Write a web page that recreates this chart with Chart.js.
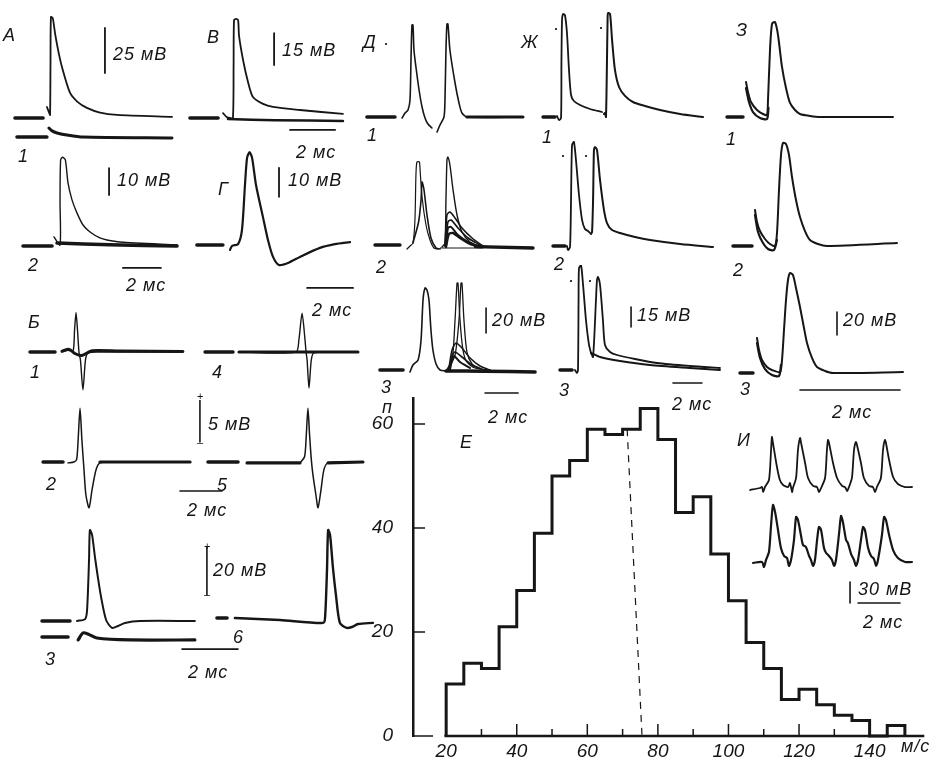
<!DOCTYPE html>
<html lang="ru">
<head>
<meta charset="utf-8">
<title>Потенциалы действия и распределение скоростей проведения</title>
<script src="https://cdn.jsdelivr.net/npm/chart.js@4.4.1/dist/chart.umd.min.js"></script>
<style>
html, body { margin: 0; padding: 0; background: #fff; }
#stage { position: relative; width: 931px; height: 762px; overflow: hidden; background: #fff; }
#stage canvas { position: absolute; }
.t { position: absolute; font-family: "Liberation Sans", Arimo, "DejaVu Sans", sans-serif; font-style: italic;
     font-size: 18px; line-height: 18px; color: #161616; letter-spacing: 1px; white-space: nowrap; }
.s { font-size: 11px; line-height: 11px; letter-spacing: 0; font-style: normal; }
</style>
</head>
<body>
<div id="stage"></div>
<script>
// ---------- histogram Е: conduction velocity distribution ----------
const speedBins = [20, 25, 30, 35, 40, 45, 50, 55, 60, 65, 70, 75, 80, 85, 90, 95, 100, 105, 110, 115, 120, 125, 130, 135, 140, 145];
const cellCounts = [10, 14, 13, 21, 28, 39, 50, 53, 59, 58, 59, 63, 57, 43, 46, 35, 26, 18, 13, 7, 9, 6, 4, 3, 0, 2];
const binWidth = 5;
const speedTicks = [20, 40, 60, 80, 100, 120, 140];
const speedMinorTicks = [30, 40, 50, 60, 70, 80, 90, 100, 110, 120, 130, 140];
const countTicks = [0, 20, 40, 60];
const meanSpeedLine = [[71.3, 59], [75.5, 0]];

// ---------- records (x in ms, y in mV relative to each baseline) ----------
// А
const A_stub = [[0.22, 0], [1.47, 0]];
const A_spike = [[1.64, 6.1], [1.74, 3], [1.78, 1.7], [1.8, 30], [1.82, 56.1], [1.9, 55.5], [2.0, 47.2], [2.15, 37], [2.31, 28.3], [2.67, 13.9], [3.0, 9], [3.42, 5.6], [4.0, 3], [4.76, 1.7], [7.2, 0.6]];
const A_lowStub = [[0.31, -10.6], [1.64, -10.6]];
const A_low = [[1.73, -5.6], [1.85, -7], [2.09, -8.3], [2.6, -9.6], [3.24, -10.6], [7.2, -11.1]];
// В
const V_stub = [[0.22, 0], [1.47, 0]];
const V_spike = [[1.69, 2.3], [1.85, 0.5], [2.0, 0], [2.13, 0], [2.16, 25], [2.18, 45.9], [2.27, 46.5], [2.36, 45.9], [2.4, 38.7], [2.58, 27.2], [2.8, 16.9], [3.02, 9.8], [3.47, 6.6], [3.91, 5.2], [5.11, 3.75], [7.02, 1.9]];
const V_base = [[1.91, -0.5], [4.0, -1.0], [7.02, -1.4]];
// А, запись 2
const A2_stub = [[0.42, -0.4], [1.95, -0.4]];
const A2_spike = [[2.05, 3.0], [2.37, 0], [2.37, 16], [2.4, 31.5], [2.5, 32.5], [2.65, 31.5], [2.79, 23], [3.0, 16.7], [3.26, 11.9], [3.58, 7.4], [3.95, 4.8], [4.47, 2.6], [4.84, 1.85], [5.53, 1.1], [8.53, 0]];
const A2_base = [[2.21, 0.7], [5.0, 0.1], [8.53, -0.4]];
// Г
const G_stub = [[0.3, 0], [1.43, 0]];
const G_spike = [[1.74, -1.7], [1.83, -0.3], [2.09, 0.3], [2.26, 5.2], [2.39, 20.7], [2.48, 30], [2.59, 32], [2.7, 30], [2.87, 20.7], [3.17, 9.7], [3.39, 1.7], [3.61, -4.1], [3.87, -6.9], [4.26, -6.2], [4.78, -4.1], [5.65, -1.0], [6.3, 0.3], [6.96, 1.0]];
// Б, записи 1–6
const B1_stub = [[0.24, 0], [1.43, 0]];
const B1_spike = [[1.76, 0], [2.05, 0.2], [2.29, 0.1], [2.36, 2.5], [2.43, 4.5], [2.5, 2.5], [2.57, 0], [2.64, -0.9], [2.76, -4.3], [2.88, -0.9], [3.0, -0.1], [3.57, 0], [7.52, 0]];
const B1_band = [[1.76, 0.1], [2.1, 0.3], [2.4, -0.2], [2.7, -0.4], [3.2, 0.15], [4.5, 0.1], [7.52, 0.05]];
const B4_stub = [[0.24, 0], [1.57, 0]];
const B4_base = [[1.86, 0], [7.52, 0]];
const B4_spike = [[1.86, 0], [4.57, 0], [4.71, 1.4], [4.86, 4.4], [5.0, 1.4], [5.05, 0], [5.1, -0.9], [5.19, -4.1], [5.3, -0.9], [5.43, -0.1], [7.52, 0]];
const B2_stub = [[0.86, 0], [1.81, 0]];
const B2_spike = [[2.05, -0.1], [2.33, 0], [2.46, 0.3], [2.53, 2.5], [2.62, 6.1], [2.71, 2.5], [2.81, -0.9], [2.9, -3.75], [3.05, -5.2], [3.19, -3.2], [3.38, -0.9], [3.57, -0.1], [4.05, 0], [7.86, 0]];
const B2_tail = [[3.57, 0], [7.86, 0]];
const B5_stub = [[0.38, 0], [1.81, 0]];
const B5_pre = [[2.24, -0.1], [4.76, -0.1]];
const B5_spike = [[4.76, -0.1], [4.98, 0.6], [5.06, 3], [5.14, 6.1], [5.22, 3], [5.3, 0.3], [5.38, -1.5], [5.52, -3.75], [5.62, -5.2], [5.76, -3.2], [5.9, -0.9], [6.1, -0.1], [7.76, 0]];
const B5_tail = [[6.1, -0.1], [7.76, 0]];
const B3_stub = [[0.25, 0], [1.25, 0]];
const B3_spike = [[1.5, 0], [1.79, 0.8], [1.86, 4.6], [1.93, 25.4], [1.96, 37.9], [2.04, 35.8], [2.14, 26.7], [2.25, 17.9], [2.36, 10], [2.54, 0.4], [2.75, -2.9], [2.96, -2.1], [3.21, -0.8], [3.75, 0], [5.71, 0]];
const B3_lowStub = [[0.25, -6.7], [1.18, -6.7]];
const B3_low = [[1.54, -7.9], [1.71, -5.0], [1.89, -5.4], [2.21, -7.1], [3.39, -7.9], [5.71, -7.9]];
const B6_stub = [[0.07, 1.25], [0.43, 1.25]];
const B6_spike = [[0.71, 1.25], [2.32, 0.4], [3.86, -0.8], [3.93, 1.25], [4.0, 21.3], [4.04, 37.9], [4.11, 35.8], [4.21, 22.5], [4.32, 10.8], [4.46, -0.8], [4.71, -2.9], [4.89, -2.5], [5.11, -1.25], [5.64, -0.8]];
// Д, записи 1–3
const D1_stub = [[0.42, 0], [2.12, 0]];
const D1_ap1 = [[2.55, -0.8], [2.73, 3.2], [2.91, 5.6], [3.03, 13.6], [3.09, 45.6], [3.15, 73.6], [3.21, 73.6], [3.27, 53.6], [3.39, 40], [3.58, 21.6], [3.76, 8], [3.94, -0.8], [4.12, -5.6], [4.36, -8.8]];
const D1_ap2 = [[4.67, -12], [4.85, -6.4], [5.09, 0], [5.15, 13.6], [5.21, 53.6], [5.27, 74.4], [5.33, 74.4], [5.45, 53.6], [5.76, 27.2], [6.0, 11.2], [6.18, 3.2], [6.48, 0], [9.88, 0]];
const D1_tail = [[6.48, 0], [9.88, 0]];
const D2_stub = [[0.91, 1.6], [2.42, 1.6]];
const D2_ap1a = [[2.85, -1.6], [3.03, 0.8], [3.21, 3.2], [3.33, 21.6], [3.39, 57.6], [3.45, 68], [3.6, 68], [3.64, 62], [3.76, 40], [4.0, 17.6], [4.24, 5.6], [4.48, -0.8], [4.73, -1.6]];
const D2_ap1b = [[3.21, 3.2], [3.55, 20], [3.7, 37.6], [3.76, 52], [3.88, 45.6], [4.06, 25.6], [4.3, 7.2], [4.61, -0.8], [4.85, -1.6]];
const D2_ap2 = [[4.97, 0], [5.15, 3.2], [5.21, 37.6], [5.27, 69.6], [5.33, 72], [5.45, 65.6], [5.64, 45.6], [5.88, 25.6], [6.18, 12], [6.67, 4], [7.27, 0.8], [10.48, -0.8]];
const D2_h1 = [[5.15, 0.8], [5.27, 25.6], [5.45, 28], [5.76, 23.2], [6.18, 15.2], [6.79, 7.2], [7.45, 0.8]];
const D2_h2 = [[5.15, 0.8], [5.33, 20], [5.52, 21.6], [5.94, 15.2], [6.55, 7.2], [7.27, 1.6]];
const D2_h3 = [[5.21, 0], [5.33, 15.2], [5.52, 16], [5.94, 9.6], [6.55, 4], [7.15, 0.8]];
const D2_h4 = [[5.21, 0], [5.39, 10.4], [5.64, 11.2], [6.06, 7.2], [6.67, 2.4], [7.27, 0]];
const D2_flat = [[4.85, -0.8], [7.45, -0.8]];
const D2_tail = [[7.0, 0.3], [10.48, -0.8]];
const D3_stub = [[1.21, 0], [2.61, 0]];
const D3_ap1 = [[3.03, -1.6], [3.21, 4], [3.52, 8], [3.7, 24], [3.82, 56], [3.94, 65.6], [4.06, 64], [4.18, 56], [4.3, 32], [4.42, 16], [4.61, 4.8], [4.85, 0], [5.21, -0.8]];
const D3_sa = [[5.21, -0.8], [5.58, 8], [5.76, 40], [5.88, 69.6], [5.94, 69.6], [6.06, 40], [6.24, 16], [6.48, 6.4], [6.97, 1.6], [7.88, 0]];
const D3_sb = [[5.33, 0], [5.76, 12], [6.0, 40], [6.12, 69.6], [6.18, 69.6], [6.3, 40], [6.48, 14.4], [6.79, 4.8], [7.27, 0.8]];
const D3_h1 = [[5.39, 1.6], [5.58, 16], [5.82, 21.6], [6.18, 17.6], [6.67, 9.6], [7.27, 3.2], [7.88, 0]];
const D3_h2 = [[5.39, 0.8], [5.58, 11.2], [5.76, 14.4], [6.18, 10.4], [6.79, 4], [7.39, 0.8]];
const D3_h3 = [[5.45, 0], [5.58, 8], [5.7, 11.2], [6.06, 6.4], [6.67, 1.6]];
const D3_base = [[5.21, -0.8], [7.5, -1.0], [10.61, -1.6]];
// Ж, записи 1–3
const Z1_stub = [[0.21, 0], [1.03, 0]];
const Z1_ap1 = [[1.17, 0.75], [1.31, -2.25], [1.45, -0.75], [1.48, 42.7], [1.52, 72.8], [1.59, 77.3], [1.72, 76.5], [1.86, 63], [2.0, 35.3], [2.14, 16.5], [2.34, 12], [2.76, 9], [3.45, 6], [4.28, 3.75]];
const Z1_ap2 = [[4.41, 2.25], [4.48, 3], [4.55, 0], [4.62, 42.7], [4.66, 72.8], [4.69, 78], [4.83, 77.3], [4.97, 57.8], [5.17, 35.3], [5.45, 22.5], [5.86, 15.8], [6.41, 11.25], [7.24, 8.25], [8.28, 5.25], [9.66, 2.25], [11.24, 0]];
const Z2_stub = [[0.9, 0.75], [1.72, 0.75]];
const Z2_ap1 = [[1.86, 0.75], [1.93, -2.25], [2.07, 0], [2.14, 35.3], [2.21, 76.5], [2.34, 78.8], [2.48, 65.3], [2.69, 39], [2.9, 20.3], [3.1, 13.5], [3.31, 12], [3.45, 10.5]];
const Z2_ap2 = [[3.52, 9.75], [3.59, 11.25], [3.66, 35.3], [3.72, 72.8], [3.79, 75], [3.93, 72.8], [4.14, 50.3], [4.41, 27.8], [4.62, 18], [4.97, 12.75], [5.52, 10.5], [6.55, 7.5], [7.59, 5.25], [9.66, 2.25], [11.93, 0]];
const Z3_stub = [[1.38, 0], [2.21, 0]];
const Z3_ap1 = [[2.41, 0], [2.55, -2.25], [2.62, 0], [2.66, 52.5], [2.69, 76.5], [2.83, 78.8], [2.97, 63.8], [3.17, 37.5], [3.38, 18.8], [3.52, 12.75]];
const Z3_ap2 = [[3.52, 12.75], [3.66, 9.75], [3.86, 52.5], [3.93, 67.5], [4.0, 69.8], [4.14, 63.8], [4.34, 37.5], [4.48, 18.8], [4.83, 13.5], [5.31, 11.25], [6.55, 8.25], [8.07, 5.25], [10.34, 3], [12.41, 1.5]];
const Z3_tail = [[3.52, 12.75], [4.14, 9.75], [5.52, 6.75], [7.59, 3.75], [10.34, 1.5], [12.41, 0]];
// З, записи 1–3
const Y1_stub = [[0.14, 0], [0.46, 0]];
const Y1_ap = [[0.52, 30.4], [0.56, 21.7], [0.62, 13], [0.74, 6.1], [0.86, 2.6], [0.94, 1.7], [0.96, 14.8], [1.0, 58.3], [1.04, 80.9], [1.1, 82.6], [1.16, 71.3], [1.24, 43.5], [1.32, 25.2], [1.4, 12.2], [1.5, 6.1], [1.6, 2.6], [1.8, 0.9], [2.0, 0], [3.46, 0]];
const Y1_band = [[0.52, 25.2], [0.58, 13], [0.66, 4.3], [0.8, -0.9], [0.94, -1.7], [0.97, 8]];
const Y2_stub = [[0.26, 0], [0.64, 0]];
const Y2_ap = [[0.7, 31.3], [0.74, 20.9], [0.8, 13], [0.9, 6.1], [1.0, 1.7], [1.1, 0], [1.14, 11.3], [1.18, 48.7], [1.22, 79.1], [1.26, 89.6], [1.32, 88.7], [1.38, 79.1], [1.44, 60], [1.52, 40], [1.6, 25.2], [1.7, 13], [1.8, 5.2], [1.96, 1.7], [2.14, 0], [3.54, 2.6]];
const Y2_band = [[0.7, 27], [0.76, 12.2], [0.86, 2.6], [0.96, -2.6], [1.08, -3.5], [1.14, 5.2]];
const Y3_stub = [[0.4, -0.9], [0.66, -0.9]];
const Y3_ap = [[0.74, 29.6], [0.78, 19.1], [0.84, 10.4], [0.94, 4.3], [1.04, 1.7], [1.2, 0], [1.24, 10.4], [1.28, 36.5], [1.32, 62.6], [1.36, 80], [1.4, 86.1], [1.46, 84.3], [1.52, 73], [1.6, 56.5], [1.68, 38.3], [1.74, 25.2], [1.84, 12.2], [1.94, 4.3], [2.1, 0.9], [2.26, -0.9], [3.66, 0]];
const Y3_band = [[0.74, 25.2], [0.8, 12.2], [0.9, 2.6], [1.04, -2.6], [1.18, -3.5], [1.22, 6.1]];
// И, ритмические разряды
const I1 = [[0.48, -2.9], [0.95, 0], [1.05, 1.4], [1.1, -5.7], [1.19, 1.4], [1.38, 11.4], [1.48, 54.3], [1.52, 72.9], [1.57, 64.3], [1.76, 30], [1.9, 11.4], [2.05, 4.3], [2.29, 1.4], [2.38, 7.1], [2.48, -5.7], [2.52, 0], [2.67, 14.3], [2.76, 54.3], [2.86, 71.4], [2.9, 65.7], [3.1, 35.7], [3.24, 14.3], [3.48, 2.9], [3.67, 1.4], [3.76, -5.7], [3.86, 0], [4.05, 14.3], [4.14, 54.3], [4.19, 68.6], [4.24, 64.3], [4.43, 35.7], [4.62, 14.3], [4.86, 2.9], [5.0, 1.4], [5.1, -4.3], [5.19, 1.4], [5.33, 14.3], [5.43, 54.3], [5.52, 65.7], [5.57, 61.4], [5.76, 35.7], [5.9, 14.3], [6.14, 2.9], [6.33, 1.4], [6.43, -5.7], [6.52, 1.4], [6.71, 14.3], [6.81, 54.3], [6.9, 68.6], [6.95, 64.3], [7.1, 40], [7.29, 15.7], [7.52, 5.7], [7.86, 1.4], [8.19, 1.4]];
const I2 = [[0.62, -1.4], [1.05, 0], [1.14, -7.1], [1.24, 2.9], [1.38, 14.3], [1.48, 52.9], [1.57, 81.4], [1.67, 71.4], [1.81, 45.7], [1.95, 20], [2.1, 8.6], [2.24, 5.7], [2.33, -5.7], [2.43, 2.9], [2.57, 31.4], [2.67, 64.3], [2.76, 60], [2.9, 38.6], [3.0, 24.3], [3.14, 21.4], [3.29, 8.6], [3.38, 2.9], [3.48, -5.7], [3.57, 2.9], [3.67, 31.4], [3.76, 50], [3.86, 45.7], [4.0, 20], [4.1, 12.9], [4.24, 8.6], [4.38, 2.9], [4.48, -5.7], [4.57, 2.9], [4.71, 38.6], [4.81, 65.7], [4.9, 57.1], [5.05, 31.4], [5.14, 27.1], [5.29, 11.4], [5.43, 2.9], [5.52, -5.7], [5.62, 2.9], [5.76, 31.4], [5.86, 50], [5.95, 45.7], [6.1, 20], [6.24, 8.6], [6.38, 4.3], [6.48, -5.7], [6.57, 2.9], [6.76, 38.6], [6.86, 64.3], [6.95, 60], [7.1, 38.6], [7.29, 17.1], [7.52, 5.7], [7.86, 0], [8.19, 0]];

// calibration values written next to the bars
const CAL = { A: 25, V: 15, A2: 10, G: 10, B2: 5, B3: 20, D: 20, Z: 15, Y: 20, I: 30, T: 2 };

// ---------- drawing ----------
const INK = '#161616';
const FONT = '"Liberation Sans", Arimo, "DejaVu Sans", sans-serif';
const stage = document.getElementById('stage');

const vbar = (x, yTop, mv) => [[x, yTop], [x, yTop - mv]];
const hbar = (x0, y, ms) => [[x0, y], [x0 + ms, y]];

function addCanvas(l, t, w, h) {
  const cv = document.createElement('canvas');
  cv.width = w; cv.height = h;
  cv.style.left = l + 'px'; cv.style.top = t + 'px';
  cv.style.width = w + 'px'; cv.style.height = h + 'px';
  stage.appendChild(cv);
  return cv;
}

function line(pts, width, tension) {
  return {
    data: pts.map(p => ({ x: p[0], y: p[1] })),
    borderColor: INK, borderWidth: width, pointRadius: 0, pointHoverRadius: 0,
    fill: false, clip: false, tension: tension === undefined ? 0.25 : tension,
    borderCapStyle: 'round', borderJoinStyle: 'round'
  };
}

const panels = [
  { box: [10, 5, 175, 140], ms: 22.5, mv: 1.8, base: 118,
    lines: [[A_stub, 3.5, 0], [A_spike, 1.8], [A_lowStub, 3.5, 0], [A_low, 3], [vbar(4.22, 50, CAL.A), 1.8, 0]] },
  { box: [185, 5, 165, 140], ms: 22.5, mv: 2.133, base: 118,
    lines: [[V_stub, 3.5, 0], [V_base, 2.5], [V_spike, 1.8], [vbar(3.96, 39.8, CAL.V), 1.8, 0], [hbar(4.67, -5.6, CAL.T), 1.8, 0]] },
  { box: [15, 150, 175, 135], ms: 19, mv: 2.7, base: 245,
    lines: [[A2_stub, 3.5, 0], [A2_base, 3.5, 0.1], [A2_spike, 1.4], [vbar(4.95, 28.5, CAL.A2), 1.8, 0], [hbar(5.68, -8.5, CAL.T), 1.8, 0]] },
  { box: [190, 150, 170, 150], ms: 23, mv: 2.9, base: 245,
    lines: [[G_stub, 3.5, 0], [G_spike, 2.2], [vbar(3.87, 26.6, CAL.G), 1.8, 0], [hbar(5.09, -14.8, CAL.T), 1.8, 0]] },
  { box: [25, 300, 170, 100], ms: 21, mv: 8.8, base: 352,
    lines: [[B1_stub, 3.5, 0], [B1_band, 3], [B1_spike, 1.4]] },
  { box: [200, 300, 170, 100], ms: 21, mv: 8.8, base: 352,
    lines: [[B4_stub, 3.5, 0], [B4_base, 3.2, 0], [B4_spike, 1.4]] },
  { box: [25, 400, 200, 115], ms: 21, mv: 8.8, base: 462,
    lines: [[B2_stub, 3.5, 0], [B2_spike, 1.5], [B2_tail, 3.2, 0], [vbar(8.33, 7.27, CAL.B2), 1.6, 0], [hbar(7.38, -3.3, CAL.T), 1.6, 0]] },
  { box: [200, 400, 175, 115], ms: 21, mv: 8.8, base: 462,
    lines: [[B5_stub, 3.5, 0], [B5_pre, 3.2, 0], [B5_spike, 1.5], [B5_tail, 3.2, 0]] },
  { box: [35, 515, 210, 140], ms: 28, mv: 2.4, base: 621,
    lines: [[B3_stub, 3.5, 0], [B3_spike, 2], [B3_lowStub, 3.5, 0], [B3_low, 3.2], [vbar(6.14, 30.8, CAL.B3), 1.6, 0], [hbar(5.25, -11.7, CAL.T), 1.6, 0]] },
  { box: [215, 515, 165, 140], ms: 28, mv: 2.4, base: 621,
    lines: [[B6_stub, 3.5, 0], [B6_spike, 2.4]] },
  { box: [360, 5, 175, 135], ms: 16.5, mv: 1.25, base: 117,
    lines: [[D1_stub, 3.5, 0], [D1_ap1, 1.6], [D1_ap2, 1.6], [D1_tail, 3, 0]] },
  { box: [360, 140, 180, 130], ms: 16.5, mv: 1.25, base: 247,
    lines: [[D2_stub, 3.5, 0], [D2_ap1a, 1.2], [D2_ap1b, 1.6], [D2_flat, 1, 0], [D2_h4, 2.4], [D2_h3, 2], [D2_h2, 1.6], [D2_h1, 1.6], [D2_ap2, 1.4], [D2_tail, 3.5, 0]] },
  { box: [360, 270, 180, 130], ms: 16.5, mv: 1.25, base: 370,
    lines: [[D3_stub, 3.5, 0], [D3_ap1, 1.6], [D3_base, 3.5, 0.1], [D3_h3, 2], [D3_h2, 1.6], [D3_h1, 1.6], [D3_sa, 1.3], [D3_sb, 1.3], [vbar(7.64, 49.6, CAL.D), 1.6, 0], [hbar(7.58, -18.4, CAL.T), 1.6, 0]] },
  { box: [540, 5, 175, 135], ms: 14.5, mv: 1.333, base: 117,
    lines: [[Z1_stub, 3.5, 0], [Z1_ap1, 1.8], [Z1_ap2, 2]] },
  { box: [540, 135, 180, 135], ms: 14.5, mv: 1.333, base: 247,
    lines: [[Z2_stub, 3.5, 0], [Z2_ap1, 1.8], [Z2_ap2, 2]] },
  { box: [540, 265, 185, 135], ms: 14.5, mv: 1.333, base: 370,
    lines: [[Z3_stub, 3.5, 0], [Z3_ap1, 1.8], [Z3_tail, 2], [Z3_ap2, 1.8], [vbar(6.28, 47.3, CAL.Z), 1.6, 0], [hbar(9.17, -9.75, CAL.T), 1.6, 0]] },
  { box: [720, 5, 190, 135], ms: 50, mv: 1.15, base: 117,
    lines: [[Y1_stub, 3.5, 0], [Y1_band, 2.2], [Y1_ap, 2]] },
  { box: [720, 130, 190, 140], ms: 50, mv: 1.15, base: 246,
    lines: [[Y2_stub, 3.5, 0], [Y2_band, 2.2], [Y2_ap, 2]] },
  { box: [720, 265, 190, 135], ms: 50, mv: 1.15, base: 372,
    lines: [[Y3_stub, 3.5, 0], [Y3_band, 2.2], [Y3_ap, 2], [vbar(2.34, 52.2, CAL.Y), 1.6, 0], [hbar(1.6, -15.7, CAL.T), 1.6, 0]] },
  { box: [740, 425, 191, 75], ms: 21, mv: 0.7, base: 488,
    lines: [[I1, 1.8]] },
  { box: [740, 495, 191, 115], ms: 21, mv: 0.7, base: 562,
    lines: [[I2, 2.2], [vbar(5.24, -28.6, CAL.I), 1.6, 0], [hbar(5.62, -58.6, CAL.T), 1.6, 0]] }
];

panels.forEach(p => {
  const [l, t, w, h] = p.box;
  const cv = addCanvas(l, t, w, h);
  new Chart(cv, {
    type: 'line',
    data: { datasets: p.lines.map(s => line(s[0], s[1], s[2])) },
    options: {
      responsive: false, animation: false, events: [],
      layout: { padding: 0 },
      plugins: { legend: { display: false }, tooltip: { enabled: false } },
      scales: {
        x: { type: 'linear', display: false, min: 0, max: w / p.ms },
        y: { type: 'linear', display: false, min: -(t + h - p.base) / p.mv, max: (p.base - t) / p.mv }
      }
    }
  });
});

// histogram with hand-drawn style axes
const histPoints = [{ x: speedBins[0], y: 0 }]
  .concat(speedBins.map((b, i) => ({ x: b, y: cellCounts[i] })))
  .concat([{ x: speedBins[speedBins.length - 1] + binWidth, y: 0 }]);

const histAxes = {
  id: 'histAxes',
  afterDatasetsDraw(chart) {
    const { ctx, scales: { x, y }, chartArea } = chart;
    const y0 = y.getPixelForValue(0);
    ctx.save();
    ctx.strokeStyle = INK;
    ctx.lineWidth = 2.5;
    ctx.beginPath();
    ctx.moveTo(x.getPixelForValue(19.5), y0);
    ctx.lineTo(x.getPixelForValue(155.5), y0);
    ctx.stroke();
    ctx.lineWidth = 1.5;
    speedMinorTicks.forEach(v => {
      const px = x.getPixelForValue(v);
      const len = v % 20 === 0 ? 12 : 7;
      ctx.beginPath(); ctx.moveTo(px, y0); ctx.lineTo(px, y0 - len); ctx.stroke();
    });
    countTicks.forEach(v => {
      const py = y.getPixelForValue(v);
      ctx.beginPath(); ctx.moveTo(chartArea.left, py); ctx.lineTo(chartArea.left + (v === 0 ? 20 : 12), py); ctx.stroke();
    });
    ctx.restore();
  }
};

const tickFont = { family: FONT, size: 19, style: 'italic' };
new Chart(addCanvas(370, 390, 561, 372), {
  type: 'line',
  data: {
    datasets: [
      { data: histPoints, stepped: true, borderColor: INK, borderWidth: 3, pointRadius: 0, fill: false, clip: false, tension: 0 },
      { data: meanSpeedLine.map(p => ({ x: p[0], y: p[1] })), borderColor: INK, borderWidth: 1.2, borderDash: [7, 6], pointRadius: 0, fill: false, clip: false, tension: 0 }
    ]
  },
  options: {
    responsive: false, animation: false, events: [],
    layout: { padding: { top: 8, right: 0, bottom: 0, left: 0 } },
    plugins: { legend: { display: false }, tooltip: { enabled: false } },
    scales: {
      x: {
        type: 'linear', min: 10.6, max: 157.4,
        afterFit: s => { s.height = 26; s.paddingLeft = 0; s.paddingRight = 0; },
        afterBuildTicks: s => { s.ticks = speedTicks.map(v => ({ value: v })); },
        grid: { display: false, drawTicks: false }, border: { display: false },
        ticks: { color: INK, font: tickFont, padding: 4, maxRotation: 0, autoSkip: false }
      },
      y: {
        type: 'linear', min: 0, max: 65,
        afterFit: s => { s.width = 43; s.paddingTop = 0; s.paddingBottom = 0; },
        afterBuildTicks: s => { s.ticks = countTicks.map(v => ({ value: v })); },
        grid: { display: false, drawTicks: false }, border: { display: true, color: INK, width: 2.5 },
        ticks: { color: INK, font: tickFont, padding: 20 }
      }
    }
  },
  plugins: [histAxes]
});

// panel letters, record numbers and calibrations
const mv = v => v + ' мВ';
const msLabel = CAL.T + ' мс';
const labels = [
  ['А', 3, 26], ['1', 18, 147], ['В', 207, 28], [mv(CAL.A), 113, 45], [mv(CAL.V), 282, 41], [msLabel, 296, 143],
  ['2', 28, 256], [mv(CAL.A2), 117, 171], [msLabel, 126, 276], ['Г', 218, 180], [mv(CAL.G), 288, 171], [msLabel, 312, 301],
  ['Б', 28, 313], ['1', 30, 363], ['4', 212, 363], [mv(CAL.B2), 208, 415], ['2', 46, 475], ['5', 217, 476], [msLabel, 187, 501],
  [mv(CAL.B3), 213, 561], ['6', 233, 628], ['3', 45, 650], [msLabel, 188, 663],
  ['Д', 363, 33], ['1', 367, 126], ['2', 376, 258], ['3', 381, 378], [mv(CAL.D), 492, 311], [msLabel, 488, 408],
  ['Ж', 521, 33], ['1', 542, 128], ['2', 554, 255], ['3', 559, 381], [mv(CAL.Z), 637, 306], [msLabel, 672, 395],
  ['З', 736, 21], ['1', 726, 130], ['2', 733, 261], ['3', 740, 380], [mv(CAL.Y), 843, 311], [msLabel, 832, 403],
  ['И', 737, 431], [mv(CAL.I), 858, 580], [msLabel, 863, 613],
  ['п', 382, 398], ['Е', 460, 433], ['м/с', 901, 737],
  ['·', 383, 34], ['·', 553, 19], ['·', 598, 18], ['·', 560, 146], ['·', 583, 146], ['·', 568, 271], ['·', 587, 271],
  ['+', 197, 391, 's'], ['–', 197, 437, 's'], ['+', 204, 541, 's'], ['–', 204, 589, 's']
];
labels.forEach(([txt, l, t, cls]) => {
  const d = document.createElement('div');
  d.className = 't' + (cls ? ' ' + cls : '');
  d.textContent = txt;
  d.style.left = l + 'px';
  d.style.top = t + 'px';
  stage.appendChild(d);
});
</script>
</body>
</html>
